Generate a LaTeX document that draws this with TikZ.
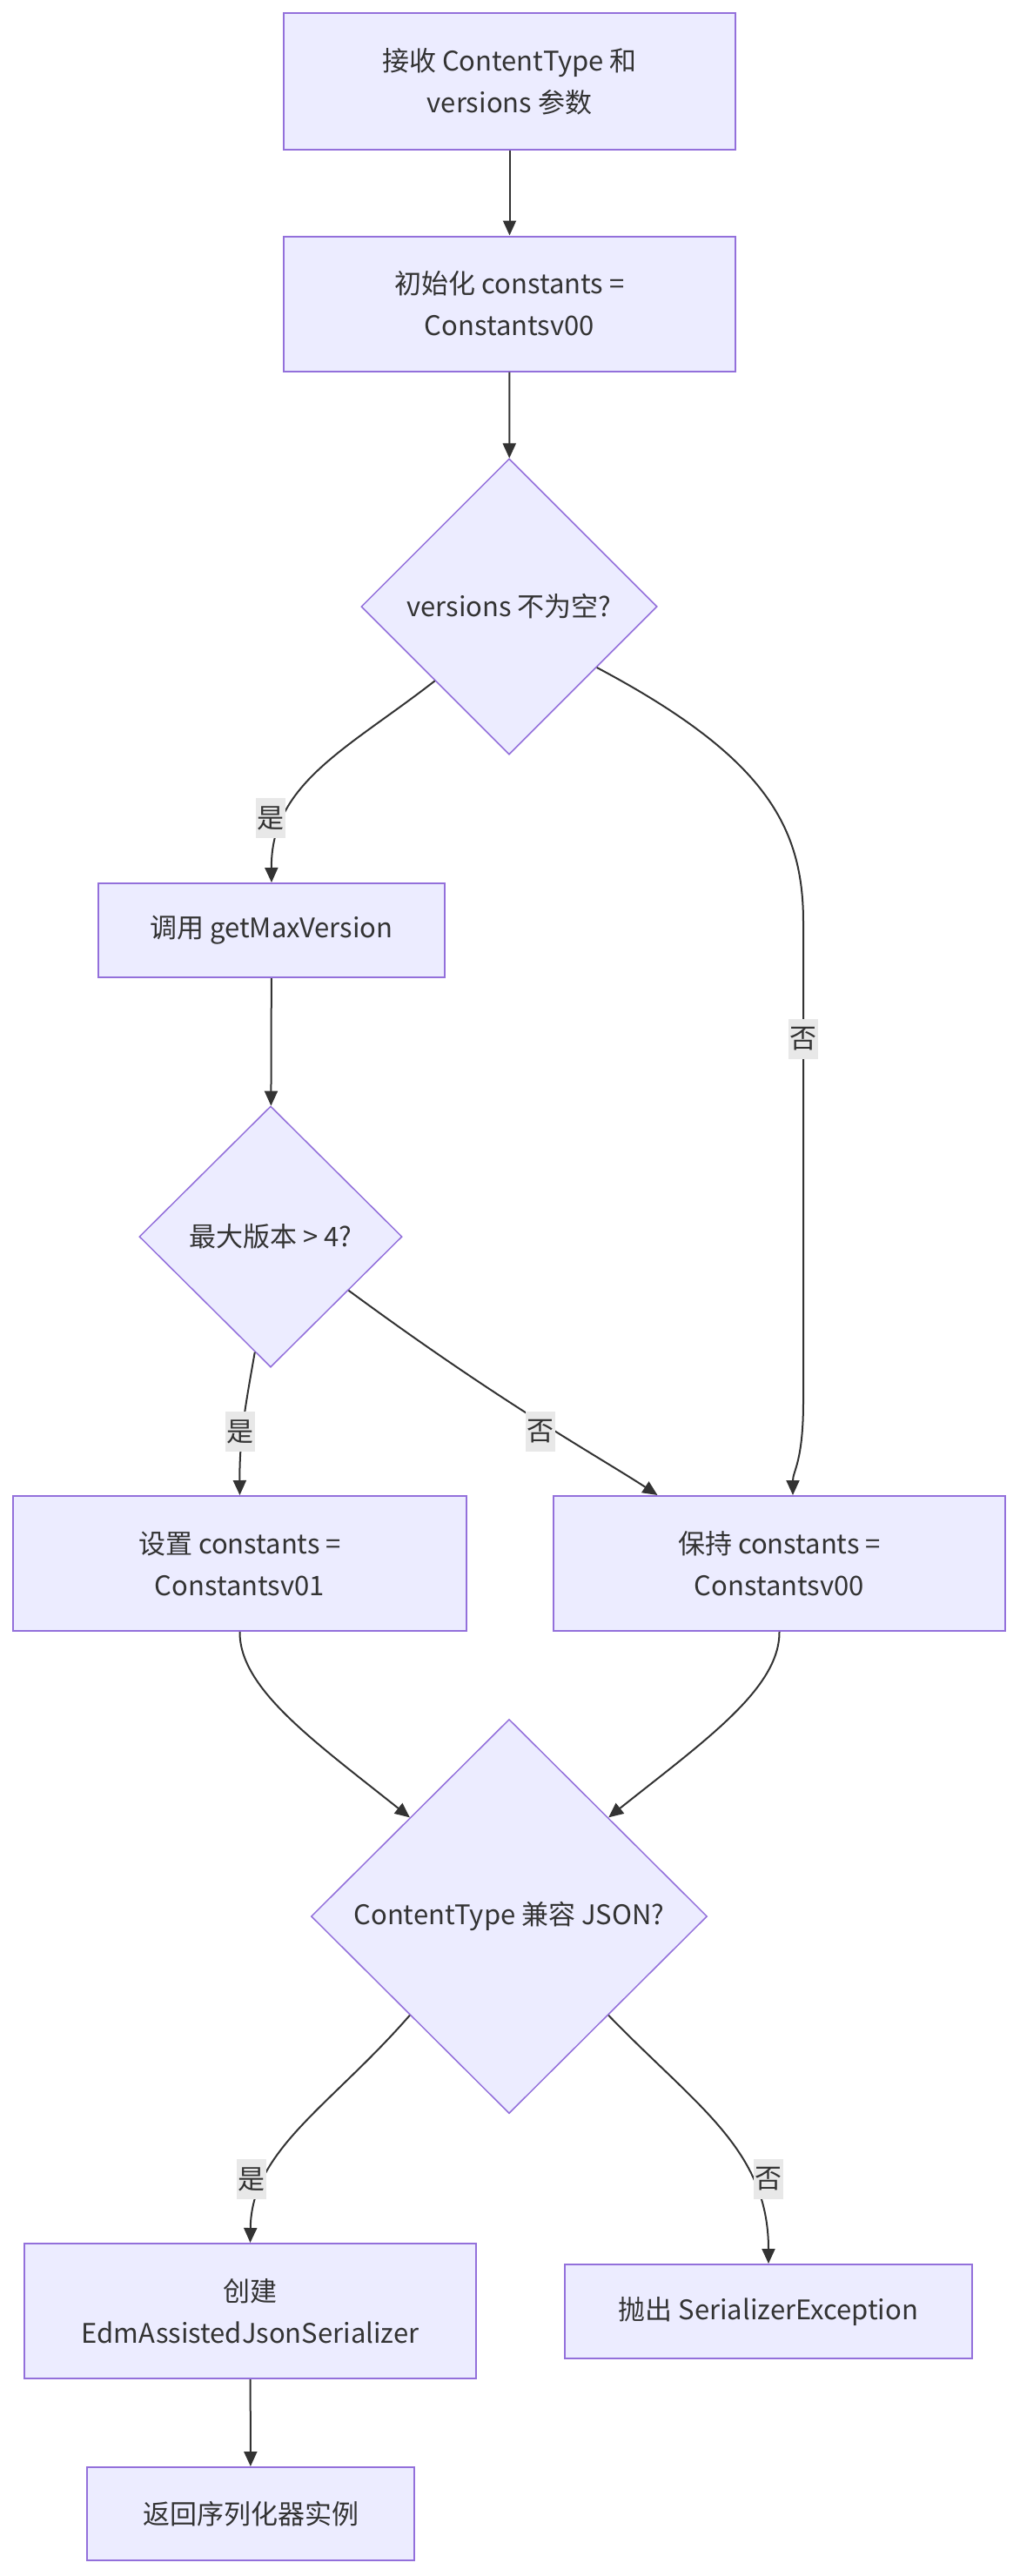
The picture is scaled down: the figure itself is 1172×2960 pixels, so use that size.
\documentclass[tikz,border=0pt]{standalone}
\usepackage{fontspec}
\setmainfont{Noto Sans CJK SC}
\usetikzlibrary{shapes.geometric,arrows.meta,calc}

\definecolor{boxfill}{HTML}{ECECFF}
\definecolor{boxline}{HTML}{9370DB}
\definecolor{ink}{HTML}{333333}
\definecolor{lblfill}{HTML}{E8E8E8}

\begin{document}
\begin{tikzpicture}[x=1pt,y=-1pt,
    >={Triangle[length=17pt,width=15pt]},
    every node/.style={font=\fontsize{31}{48}\selectfont, text=ink},
    box/.style={draw=boxline, fill=boxfill, line width=2pt, align=center, inner sep=0pt},
    decision/.style={diamond, aspect=1, draw=boxline, fill=boxfill, line width=1.5pt, align=center, inner sep=0pt},
    flow/.style={draw=ink, line width=2pt},
    lbl/.style={fill=lblfill, inner sep=1.5pt, minimum height=46pt}
]
    % Fix the page to the size of the picture
    \useasboundingbox (0,0) rectangle (1172,2960);

    % Steps and decisions
    \node[box, minimum width=519pt, minimum height=157pt] (recv) at (585.5,93.5) {接收 ContentType 和\\versions 参数};
    \node[box, minimum width=519pt, minimum height=155pt] (init) at (585.5,349) {初始化 constants =\\Constantsv00};
    \node[decision, minimum width=340pt, minimum height=340pt] (notempty) at (585,697) {versions 不为空?};
    \node[box, minimum width=398pt, minimum height=108pt] (getmax) at (312,1069) {调用 getMaxVersion};
    \node[decision, minimum width=302pt, minimum height=300pt] (gtfour) at (311,1421) {最大版本 > 4?};
    \node[box, minimum width=521pt, minimum height=155pt] (setone) at (275.5,1796.5) {设置 constants =\\Constantsv01};
    \node[box, minimum width=519pt, minimum height=155pt] (keepzero) at (895.5,1796.5) {保持 constants =\\Constantsv00};
    \node[decision, minimum width=455pt, minimum height=453pt] (isjson) at (585,2202) {ContentType 兼容 JSON?};
    \node[box, minimum width=519pt, minimum height=155pt] (create) at (287.5,2655.5) {创建\\EdmAssistedJsonSerializer};
    \node[box, minimum width=468pt, minimum height=108pt] (throw) at (883,2656) {抛出 SerializerException};
    \node[box, minimum width=376pt, minimum height=107pt] (ret) at (288,2888.5) {返回序列化器实例};

    % Straight connectors
    \draw[flow,->] (recv) -- (init);
    \draw[flow,->] (init) -- (notempty);
    \draw[flow,->] (getmax) -- (gtfour);
    \draw[flow,->] (create) -- (ret);

    % versions not empty?
    \draw[flow,->] (notempty.south west) .. controls (400,860) and (311,900) .. (getmax.north)
        node[lbl] at (311,940) {是};
    \draw[flow,->] ($(notempty.east)!0.41!(notempty.south)$) .. controls (880,870) and (923,950) .. (923,1060)
        -- (923,1610) .. controls (923,1680) and (911,1690) .. ([xshift=15.5pt]keepzero.north)
        node[lbl] at (923,1194) {否};

    % max version > 4?
    \draw[flow,->] ($(gtfour.south)!0.12!(gtfour.west)$) .. controls (283,1610) and (275,1650) .. (setone.north)
        node[lbl] at (276,1645) {是};
    \draw[flow,->] ($(gtfour.east)!0.41!(gtfour.south)$) .. controls (580,1615) and (690,1675) .. ([xshift=-140pt]keepzero.north)
        node[lbl] at (621,1645) {否};

    % both branches meet at the JSON check
    \draw[flow,->] (setone.south) .. controls (275,1940) and (360,2000) .. (isjson.north west);
    \draw[flow,->] (keepzero.south) .. controls (896,1940) and (810,2000) .. (isjson.north east);

    % ContentType compatible with JSON?
    \draw[flow,->] (isjson.south west) .. controls (380,2420) and (289,2470) .. (create.north)
        node[lbl] at (289,2504) {是};
    \draw[flow,->] (isjson.south east) .. controls (800,2420) and (883,2470) .. (throw.north)
        node[lbl] at (883,2504) {否};
\end{tikzpicture}
\end{document}
